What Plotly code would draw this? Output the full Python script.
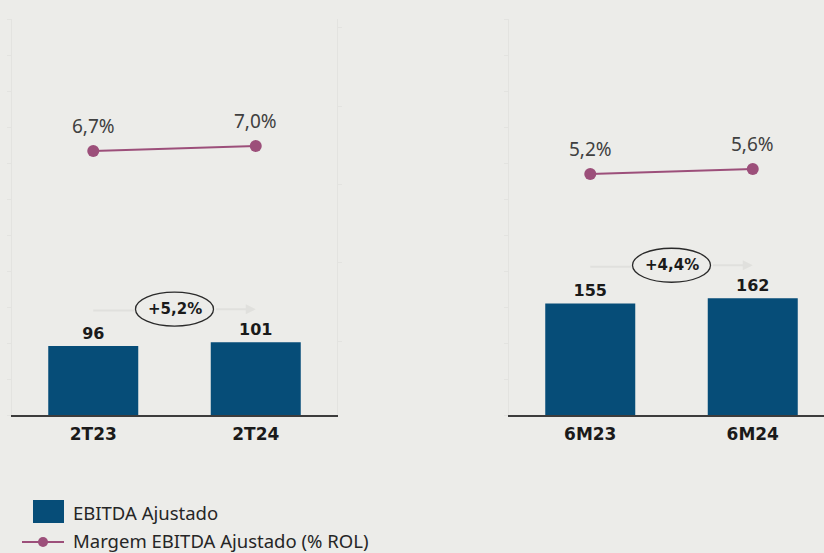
import plotly.graph_objects as go

# ---------------- data ----------------
periods_q = ["2T23", "2T24"]
periods_s = ["6M23", "6M24"]
ebitda_q = [96, 101]
ebitda_s = [155, 162]
margin_q = [6.7, 7.0]
margin_s = [5.2, 5.6]
growth_labels = ["+5,2%", "+4,4%"]
legend_labels = ["EBITDA Ajustado", "Margem EBITDA Ajustado (% ROL)"]

# ---------------- style ----------------
W, H = 824, 553
BG = "#ecece9"
BAR = "#064d78"
LINE = "#9c4f7a"
AXIS = "#3c3c3c"
FAINT = "#e3e3e0"
BOLD_FONT = "DejaVu Sans"
TXT_FONT = "Noto Sans"


def fmt_pct(v):
    return f"{v:.1f}%".replace(".", ",")


def px_x(p):
    return p / W


def px_y(p):
    return (H - p) / H


y_dom = [px_y(415), px_y(19)]
left_dom = [px_x(12), px_x(337)]
right_dom = [px_x(509), 1.0]
cat_px = (337 - 12) / 2.0
right_span = (W - 509) / cat_px
bar_w = 90 / cat_px

fig = go.Figure()

panels = [
    (periods_q, ebitda_q, margin_q, "x", "y", "y2"),
    (periods_s, ebitda_s, margin_s, "x2", "y3", "y4"),
]

for cats, bars, margins, xa, ya, ya2 in panels:
    fig.add_trace(go.Bar(
        x=cats, y=bars, xaxis=xa, yaxis=ya,
        marker=dict(color=BAR, line=dict(width=0)),
        width=bar_w,
        text=[str(v) for v in bars], textposition="outside",
        textfont=dict(family=BOLD_FONT, size=16, color="#1a1a1a", weight="bold"),
        cliponaxis=False, showlegend=False, hoverinfo="skip",
    ))
    fig.add_trace(go.Scatter(
        x=cats, y=margins, xaxis=xa, yaxis=ya2,
        mode="lines+markers",
        line=dict(color=LINE, width=2.2),
        marker=dict(color=LINE, size=12),
        showlegend=False, hoverinfo="skip", cliponaxis=False,
    ))

annotations = []
shapes = []

# margin labels
for cats, margins, ya2 in [(periods_q, margin_q, "y2"), (periods_s, margin_s, "y4")]:
    xa = "x" if ya2 == "y2" else "x2"
    for c, m in zip(cats, margins):
        annotations.append(dict(
            x=c, y=m, xref=xa, yref=ya2, yshift=25, showarrow=False,
            text=fmt_pct(m), font=dict(family=TXT_FONT, size=19, color="#404040"),
        ))

# growth ellipses + faint arrows
half_w = 40 / cat_px
ARROW = "#e0e0dd"
for (cats, bars, _, xa, ya, _), g in zip(panels, growth_labels):
    yc = max(bars) + 46
    shapes.append(dict(
        type="line", xref=xa, yref=ya, x0=0, x1=0.5 - half_w, y0=yc - 2, y1=yc - 2,
        line=dict(color=ARROW, width=2), layer="below",
    ))
    annotations.append(dict(
        x=1, y=yc, ax=0.5 + half_w, ay=yc, xref=xa, yref=ya, axref=xa, ayref=ya,
        showarrow=True, arrowhead=2, arrowsize=1, arrowwidth=2,
        arrowcolor=ARROW, text="",
    ))
    shapes.append(dict(
        type="circle", xref=xa, yref=ya, xsizemode="pixel", ysizemode="pixel",
        xanchor=0.5, yanchor=yc, x0=-39, x1=39, y0=-17, y1=17,
        fillcolor=BG, line=dict(color="#2a2a2a", width=1.3), layer="above",
    ))
    annotations.append(dict(
        x=0.5, y=yc, xref=xa, yref=ya, showarrow=False, text=g,
        font=dict(family=BOLD_FONT, size=15, color="#1a1a1a", weight="bold"),
    ))

# manual legend
shapes.append(dict(type="rect", xref="paper", yref="paper",
                   x0=px_x(33), x1=px_x(64), y0=px_y(523), y1=px_y(500),
                   fillcolor=BAR, line=dict(width=0)))
shapes.append(dict(type="line", xref="paper", yref="paper",
                   x0=px_x(22), x1=px_x(64), y0=px_y(542), y1=px_y(542),
                   line=dict(color=LINE, width=2)))
shapes.append(dict(type="circle", xref="paper", yref="paper",
                   x0=px_x(38), x1=px_x(48), y0=px_y(547), y1=px_y(537),
                   fillcolor=LINE, line=dict(width=0)))
for lbl, yy in zip(legend_labels, [512, 540]):
    annotations.append(dict(
        x=px_x(71), y=px_y(yy), xref="paper", yref="paper", xanchor="left",
        yanchor="middle", showarrow=False, text=lbl,
        font=dict(family=TXT_FONT, size=18.5, color="#262626"),
    ))

xcommon = dict(type="category", showgrid=False, zeroline=False,
               showline=True, linecolor=AXIS, linewidth=2, ticks="",
               tickfont=dict(family=BOLD_FONT, size=17, color="#1a1a1a", weight="bold"),
               ticklabelstandoff=3)
ycommon = dict(showgrid=False, zeroline=False, showticklabels=False,
               showline=True, linecolor=FAINT, linewidth=1,
               ticks="outside", ticklen=4, tickcolor=FAINT, domain=y_dom)

fig.update_layout(
    width=W, height=H,
    margin=dict(l=0, r=0, t=0, b=0),
    paper_bgcolor=BG, plot_bgcolor=BG,
    xaxis=dict(xcommon, domain=left_dom, anchor="y", range=[-0.5, 1.5]),
    xaxis2=dict(xcommon, domain=right_dom, anchor="y3", range=[-0.5, -0.5 + right_span]),
    yaxis=dict(ycommon, anchor="x", range=[0, 550], dtick=50),
    yaxis2=dict(ycommon, anchor="x", overlaying="y", side="right",
                range=[-9.14, 14.62], dtick=4.7),
    yaxis3=dict(ycommon, anchor="x2", range=[0, 550], dtick=50),
    yaxis4=dict(ycommon, anchor="x2", overlaying="y3", side="right",
                range=[-14.08, 17.6], dtick=5, showline=False, ticks=""),
    annotations=annotations,
    shapes=shapes,
)

fig.write_html(
    "out.html",
    config={"displayModeBar": False},
    post_script="document.body.style.margin='0';document.body.style.padding='0';"
                "document.body.style.overflow='hidden';",
)
